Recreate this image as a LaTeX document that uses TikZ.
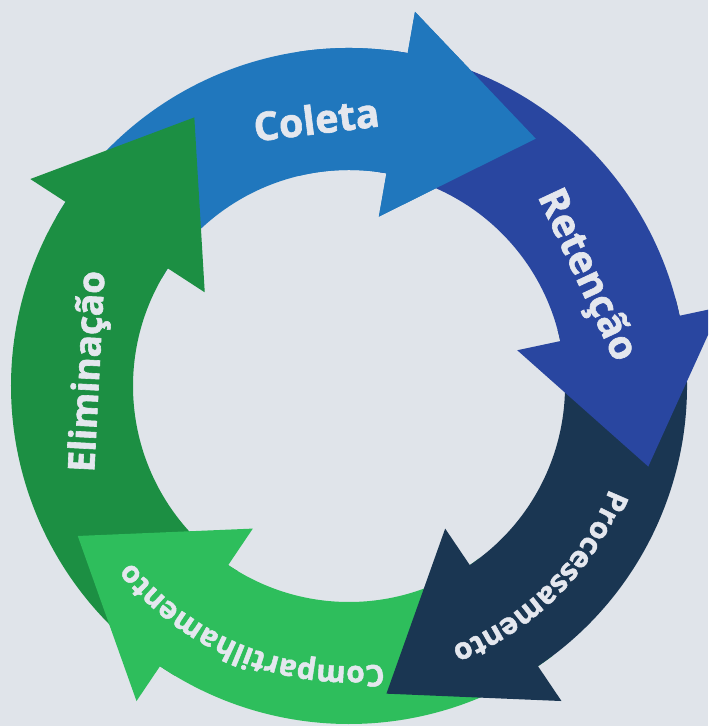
\documentclass[tikz,border=0pt]{standalone}
\usepackage{fontspec}
\setmainfont{Open Sans}[BoldFeatures={FakeBold=1.6}]
\usepackage{tikz}
\usetikzlibrary{decorations.text}

\definecolor{bggray}{HTML}{E0E4EA}
\definecolor{coletablue}{HTML}{2077BD}
\definecolor{retencaoblue}{HTML}{2946A0}
\definecolor{processnavy}{HTML}{1A3652}
\definecolor{compartgreen}{HTML}{2EBE5C}
\definecolor{eliminagreen}{HTML}{1C8F43}
\definecolor{labeltxt}{HTML}{E4E7EE}

% one stage of the ring: tail angle, head angle, colour
\newcommand{\ringarrow}[3]{%
  \fill[#3] (#1:6.76) arc[start angle=#1, end angle=#2, radius=6.76]
    -- (#2:7.6) -- ([shift={(#2-90:2.82)}]#2:5.52) -- (#2:3.44)
    -- (#2:4.32) arc[start angle=#2, end angle=#1, radius=4.32] -- cycle;}
\newcommand{\stagefont}{\fontsize{22.5}{26}\selectfont\bfseries}
\newcommand{\curvefont}{\fontsize{17}{20}\selectfont\bfseries}

\begin{document}
\begin{tikzpicture}[
  stagelabel/.style={text=labeltxt, font=\stagefont, anchor=base, inner sep=0pt},
  curvelabel/.style={decorate, decoration={text along path, text align=center,
                     text color=labeltxt, text={|\curvefont|#1}}},
]
\path[use as bounding box] (-6.98,-6.8) rectangle (7.18,7.72);
\clip (-6.98,-6.8) rectangle (7.18,7.72);
\fill[bggray] (-6.98,-6.8) rectangle (7.18,7.72);

% each head sits on the tail of the next stage
\ringarrow{150}{80}{coletablue}
\ringarrow{239}{147}{eliminagreen}
\ringarrow{-53}{-124}{compartgreen}
\ringarrow{15}{-56}{processnavy}
\ringarrow{83}{12}{retencaoblue}
\begin{scope}
  \clip (-1,0) rectangle (7.18,7.72);
  \ringarrow{150}{80}{coletablue}
\end{scope}

% labels
\node[stagelabel, rotate=7] (coleta) at (97:5.08) {Coleta};
\node[stagelabel, rotate=-65] (retencao) at (25:5.02) {Retenção};
\node[stagelabel, rotate=87, font=\fontsize{21}{25}\selectfont\bfseries]
  (eliminacao) at (176.8:5.0) {Eliminação};
\path[curvelabel=Processamento] (0:5.6) arc[start angle=0, end angle=-90, radius=5.6];
\path[curvelabel=Compartilhamento] (-68:5.6) arc[start angle=-68, end angle=-156, radius=5.6];
\end{tikzpicture}
\end{document}
